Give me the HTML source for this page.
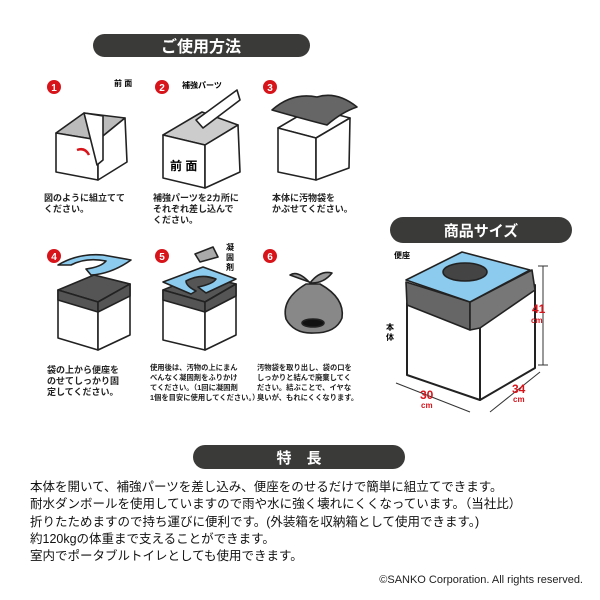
<!DOCTYPE html>
<html><head><meta charset="utf-8"><style>
html,body{margin:0;padding:0;background:#fff;width:600px;height:600px;overflow:hidden}
svg{display:block}
text{font-family:"Liberation Sans","Noto Sans CJK JP",sans-serif}
</style></head><body>
<svg width="600" height="600" viewBox="0 0 600 600" xmlns="http://www.w3.org/2000/svg">
<rect x="93" y="34" width="217" height="23" rx="11.5" fill="#3a3a38"/>
<text x="201" y="52" font-size="16" font-weight="bold" fill="#fff" text-anchor="middle">ご使用方法</text>

<g stroke="#222" stroke-width="1.6" stroke-linejoin="round">
<!-- step1 -->
<polygon points="56,133 98,140 125,118 84,113" fill="#bbb"/>
<polygon points="56,133 98,140 98,180 56,172" fill="#fff"/>
<polygon points="98,140 125,118 127,162 98,180" fill="#fff"/>
<polygon points="84,113 103,116 103,160 97,165" fill="#fff"/>
<path d="M77,150 q8,-3 12,5" fill="none" stroke="#d8141b" stroke-width="2.5"/>
<!-- step2 -->
<polygon points="163,135 205,145 238,125 202,112" fill="#ccc"/>
<polygon points="163,135 205,145 205,188 163,178" fill="#fff"/>
<polygon points="205,145 238,125 240,172 205,188" fill="#fff"/>
<polygon points="196,120 237,90 240,100 203,128" fill="#fff"/>
<!-- step3 -->
<polygon points="278,128 316,138 350,118 312,108" fill="#fff"/>
<polygon points="278,128 316,138 316,180 278,172" fill="#fff"/>
<polygon points="316,138 350,118 349,168 316,180" fill="#fff"/>
<path d="M272,110 q20,-18 45,-13 q20,-6 40,10 q-15,5 -30,18 q-20,-5 -55,-15z" fill="#666"/>

<!-- step4 -->
<polygon points="58,290 98,302 130,284 94,275" fill="#555"/>
<polygon points="58,290 98,302 98,350 58,338" fill="#fff"/>
<polygon points="98,302 130,284 130,335 98,350" fill="#fff"/>
<polygon points="58,290 98,302 98,312 58,300" fill="#555"/>
<polygon points="98,302 130,284 130,296 98,312" fill="#555"/>
<path d="M58,265 q20,-12 45,-10 l28,5 q-20,14 -40,15 l-5,-6 q15,-2 20,-8 q-20,-4 -35,4z" fill="#8ccbed"/>
<!-- step5 -->
<polygon points="163,290 205,302 236,284 200,275" fill="#555"/>
<polygon points="163,290 205,302 205,350 163,340" fill="#fff"/>
<polygon points="205,302 236,284 236,335 205,350" fill="#fff"/>
<polygon points="163,290 205,302 205,312 163,300" fill="#555"/>
<polygon points="205,302 236,284 236,296 205,312" fill="#555"/>
<path d="M163,282 l40,-15 l33,12 l-30,14 l-8,-6 q15,-3 18,-8 q-15,-6 -30,2 q0,5 10,10 l-5,3z" fill="#8ccbed"/>
<polygon points="195,254 213,247 218,257 200,262" fill="#aaa"/>
<!-- step6 -->
<path d="M306,284 q-25,15 -20,35 q8,15 28,14 q22,0 28,-15 q3,-20 -22,-34z" fill="#888"/>
<path d="M290,275 q8,-5 20,8 q10,-13 22,-10 q-8,10 -20,10z" fill="#999"/>
<ellipse cx="313" cy="323" rx="11" ry="4" fill="#111"/>

<!-- product -->
<polygon points="407,303 480,325 480,400 407,375" fill="#fff" stroke-width="2"/>
<polygon points="480,325 535,285 535,368 480,400" fill="#fff" stroke-width="2"/>
<polygon points="406,282 470,302 470,330 407,305" fill="#666"/>
<polygon points="470,302 532,270 535,290 480,328 470,330" fill="#777"/>
<path d="M406,280 l56,-28 l68,18 l-60,32z" fill="#8ccbed"/>
<ellipse cx="465" cy="272" rx="22" ry="9" fill="#444"/>
</g>
<g fill="#d8141b" font-weight="bold" font-size="9" text-anchor="middle" font-family="Liberation Sans">
<circle cx="54" cy="87" r="7"/><circle cx="162" cy="87" r="7"/><circle cx="270" cy="87" r="7"/>
<circle cx="54" cy="256" r="7"/><circle cx="162" cy="256" r="7"/><circle cx="270" cy="256" r="7"/>
</g>
<g fill="#fff" font-weight="bold" font-size="10" text-anchor="middle">
<text x="54" y="91">1</text><text x="162" y="91">2</text><text x="270" y="91">3</text>
<text x="54" y="260">4</text><text x="162" y="260">5</text><text x="270" y="260">6</text>
</g>
<g stroke="#333" stroke-width="1" fill="none">
<line x1="543" y1="266" x2="543" y2="365"/><line x1="538" y1="266" x2="548" y2="266"/><line x1="538" y1="365" x2="548" y2="365"/>
<line x1="396" y1="383" x2="470" y2="412"/><line x1="490" y1="412" x2="540" y2="372"/>
</g>

<text x="182" y="88" font-size="8" font-weight="bold">補強パーツ</text>
<text x="114" y="86" font-size="8" font-weight="bold">前 面</text>
<text x="170" y="170" font-size="12" font-weight="bold">前 面</text>
<text x="226" y="250" font-size="8" font-weight="bold">凝</text>
<text x="226" y="260" font-size="8" font-weight="bold">固</text>
<text x="226" y="270" font-size="8" font-weight="bold">剤</text>

<g font-size="9" fill="#222" font-weight="bold">
<text x="44" y="201">図のように組立てて</text>
<text x="44" y="212">ください。</text>
<text x="153" y="201">補強パーツを2カ所に</text>
<text x="153" y="212">それぞれ差し込んで</text>
<text x="153" y="223">ください。</text>
<text x="272" y="201">本体に汚物袋を</text>
<text x="272" y="212">かぶせてください。</text>
<text x="47" y="373">袋の上から便座を</text>
<text x="47" y="384">のせてしっかり固</text>
<text x="47" y="395">定してください。</text>
</g>
<g font-size="7.3" fill="#222" font-weight="bold">
<text x="150" y="370">使用後は、汚物の上にまん</text>
<text x="150" y="380">べんなく凝固剤をふりかけ</text>
<text x="150" y="390">てください。（1回に凝固剤</text>
<text x="150" y="400">1個を目安に使用してください。）</text>
<text x="257" y="370">汚物袋を取り出し、袋の口を</text>
<text x="257" y="380">しっかりと結んで廃棄してく</text>
<text x="257" y="390">ださい。結ぶことで、イヤな</text>
<text x="257" y="400">臭いが、もれにくくなります。</text>
</g>

<rect x="390" y="217" width="182" height="26" rx="13" fill="#3a3a38"/>
<text x="481" y="236" font-size="15" font-weight="bold" fill="#fff" text-anchor="middle">商品サイズ</text>
<text x="394" y="258" font-size="8" font-weight="bold">便座</text>
<text x="386" y="330" font-size="8" font-weight="bold">本</text>
<text x="386" y="340" font-size="8" font-weight="bold">体</text>
<text x="532" y="313" font-size="12" font-weight="bold" fill="#d8141b">41</text>
<text x="531" y="323" font-size="8" font-weight="bold" fill="#d8141b">cm</text>
<text x="420" y="399" font-size="12" font-weight="bold" fill="#d8141b">30</text>
<text x="421" y="408" font-size="8" font-weight="bold" fill="#d8141b">cm</text>
<text x="512" y="393" font-size="12" font-weight="bold" fill="#d8141b">34</text>
<text x="513" y="402" font-size="8" font-weight="bold" fill="#d8141b">cm</text>

<rect x="193" y="445" width="212" height="24" rx="12" fill="#3a3a38"/>
<text x="299" y="463" font-size="15" font-weight="bold" fill="#fff" text-anchor="middle">特　長</text>

<g font-size="12.5" fill="#111">
<text x="30" y="491">本体を開いて、補強パーツを差し込み、便座をのせるだけで簡単に組立てできます。</text>
<text x="30" y="508">耐水ダンボールを使用していますので雨や水に強く壊れにくくなっています。（当社比）</text>
<text x="30" y="526">折りたためますので持ち運びに便利です。(外装箱を収納箱として使用できます。)</text>
<text x="30" y="543">約120kgの体重まで支えることができます。</text>
<text x="30" y="560">室内でポータブルトイレとしても使用できます。</text>
</g>
<text x="583" y="583" font-size="11" fill="#222" text-anchor="end">©SANKO Corporation. All rights reserved.</text>
</svg>
</body></html>
